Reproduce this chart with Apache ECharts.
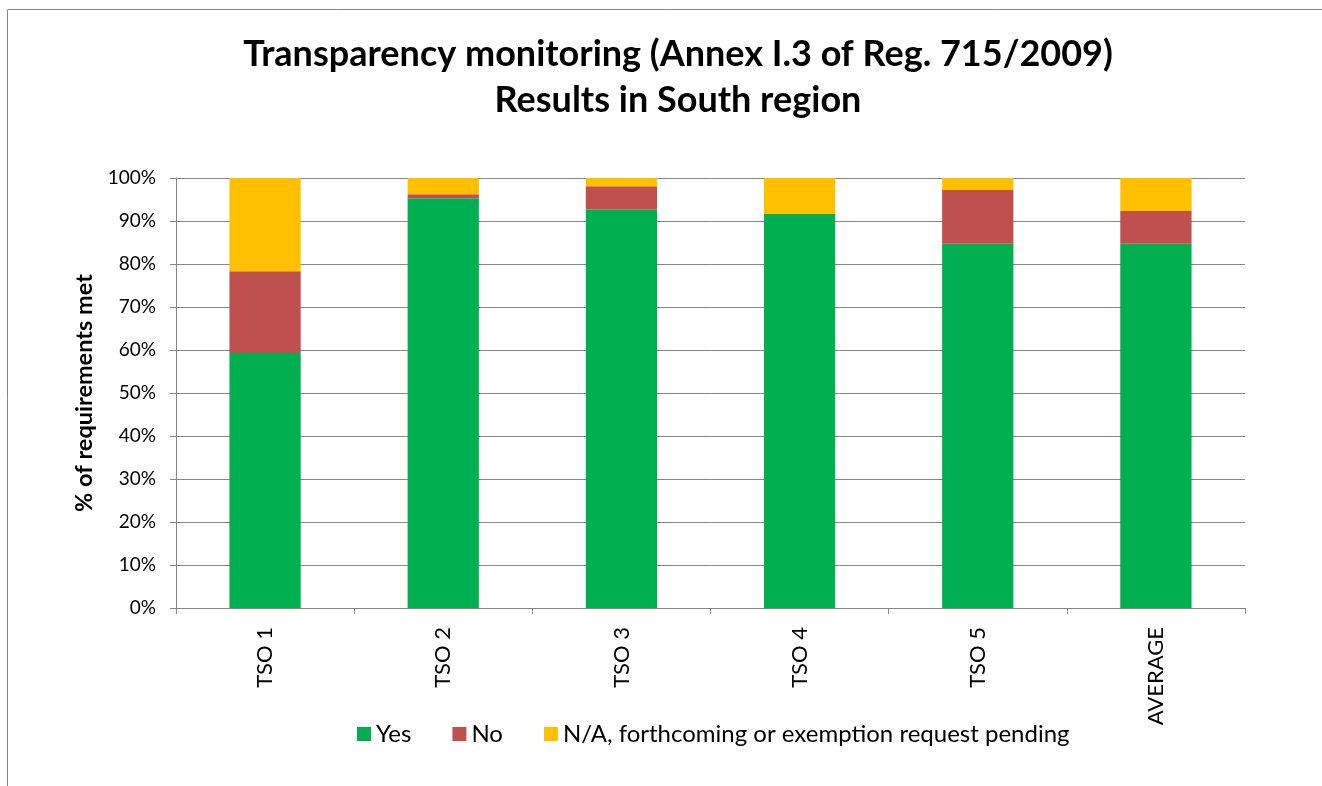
<!DOCTYPE html>
<html>
<head>
<meta charset="utf-8">
<script src="https://cdn.jsdelivr.net/npm/echarts@6/dist/echarts.min.js"></script>
<style>
html,body{margin:0;padding:0;background:#fff;}
#main{width:1322px;height:786px;}
</style>
</head>
<body>
<div id="main"></div>
<script>
const categories = ['TSO 1', 'TSO 2', 'TSO 3', 'TSO 4', 'TSO 5', 'AVERAGE'];
const yesValues = [59.3, 95.3, 92.7, 91.6, 84.7, 84.7];
const noValues = [19.0, 0.9, 5.4, 0, 12.5, 7.6];
const naValues = [21.7, 3.8, 1.9, 8.4, 2.8, 7.7];
const seriesNames = ['Yes', 'No', 'N/A, forthcoming or exemption request pending'];
const titleLines = ['Transparency monitoring (Annex I.3 of Reg. 715/2009)', 'Results in South region'];
const yAxisName = '% of requirements met';

const FONT = 'Lato';
const chart = echarts.init(document.getElementById('main'));
const axisGray = '#868686';
const titleStyle = { fontFamily: FONT, fontSize: 36, fontWeight: 'bold', color: '#000' };

chart.setOption({
  animation: false,
  backgroundColor: '#fff',
  color: ['#00B050', '#C0504D', '#FFC000'],
  title: [
    { text: titleLines[0], left: 673, textAlign: 'center', top: 31, textStyle: titleStyle },
    { text: titleLines[1], left: 673, textAlign: 'center', top: 77, textStyle: titleStyle }
  ],
  graphic: [{
    type: 'rect',
    shape: { x: 7.5, y: 9.5, width: 1400, height: 900 },
    style: { fill: 'none', stroke: axisGray, lineWidth: 1 },
    silent: true
  }],
  legend: {
    left: 352,
    top: 717,
    icon: 'rect',
    itemWidth: 14,
    itemHeight: 14,
    itemGap: 41,
    textStyle: { fontFamily: FONT, fontSize: 24, color: '#000' },
    data: seriesNames
  },
  grid: { left: 176, right: 77, top: 178, bottom: 178 },
  xAxis: {
    type: 'category',
    data: categories,
    axisLine: { lineStyle: { color: axisGray, width: 1 } },
    axisTick: { show: true, alignWithLabel: false, length: 6, lineStyle: { color: axisGray } },
    axisLabel: { rotate: 90, margin: 19, fontFamily: FONT, fontSize: 22, color: '#000' }
  },
  yAxis: {
    type: 'value',
    min: 0, max: 100, interval: 10,
    name: yAxisName,
    nameLocation: 'middle',
    nameRotate: 90,
    nameGap: 76,
    nameTextStyle: { fontFamily: FONT, fontSize: 23.5, fontWeight: 'bold', color: '#000' },
    axisLine: { show: true, lineStyle: { color: axisGray, width: 1 } },
    axisTick: { show: true, length: 6, lineStyle: { color: axisGray } },
    axisLabel: { formatter: '{value}%', margin: 20, fontFamily: FONT, fontSize: 19, color: '#000' },
    splitLine: { show: true, lineStyle: { color: axisGray, width: 1 } }
  },
  series: [
    { name: seriesNames[0], type: 'bar', stack: 'total', barWidth: '40%', data: yesValues },
    { name: seriesNames[1], type: 'bar', stack: 'total', barWidth: '40%', data: noValues },
    { name: seriesNames[2], type: 'bar', stack: 'total', barWidth: '40%', data: naValues }
  ]
});
</script>
</body>
</html>
